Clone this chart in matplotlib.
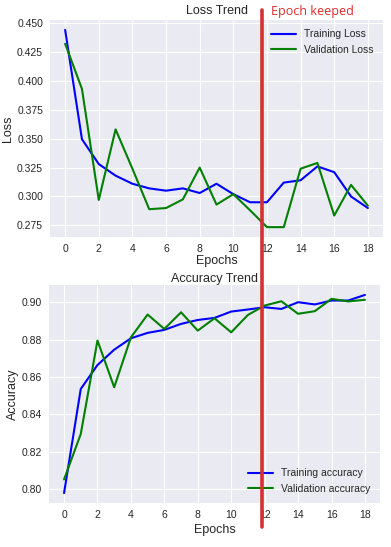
import matplotlib
matplotlib.use('Agg')
import matplotlib.pyplot as plt
from matplotlib.lines import Line2D
from matplotlib.transforms import blended_transform_factory

# datos
epochs = list(range(19))
train_loss = [0.444, 0.3495, 0.328, 0.318, 0.311, 0.307, 0.305, 0.307, 0.303, 0.311,
              0.302, 0.295, 0.295, 0.312, 0.314, 0.326, 0.321, 0.300, 0.290]
val_loss = [0.432, 0.393, 0.297, 0.358, 0.324, 0.289, 0.290, 0.2975, 0.325, 0.293,
            0.302, 0.288, 0.2735, 0.2735, 0.324, 0.329, 0.2835, 0.310, 0.292]
train_acc = [0.7979, 0.8536, 0.8664, 0.8746, 0.8807, 0.8836, 0.8852, 0.8884, 0.8905, 0.8916,
             0.8950, 0.8961, 0.8973, 0.8964, 0.9000, 0.8988, 0.9009, 0.9009, 0.9039]
val_acc = [0.8052, 0.8295, 0.8795, 0.8545, 0.8812, 0.8934, 0.8857, 0.8946, 0.8848, 0.8914,
           0.8839, 0.8932, 0.8982, 0.9005, 0.8938, 0.8952, 0.9018, 0.9004, 0.9013]
keep_epoch = 11.68

plt.style.use('seaborn-v0_8-darkgrid')
plt.rcParams['font.family'] = ['Liberation Sans', 'DejaVu Sans']
plt.rcParams['text.color'] = '#262626'
plt.rcParams['axes.labelcolor'] = '#262626'
plt.rcParams['xtick.color'] = '#262626'
plt.rcParams['ytick.color'] = '#262626'

fig = plt.figure(figsize=(3.91, 5.47), dpi=100)
ax1 = fig.add_axes([50/391, 1 - 237/547, 333/391, 217/547])
ax2 = fig.add_axes([49/391, 44/547, 331/391, 218/547])

#------------------------------
# Loss
#------------------------------
ax1.plot(epochs, train_loss, color='blue', lw=1.5, label='Training Loss')
ax1.plot(epochs, val_loss, color='green', lw=1.5, label='Validation Loss')
ax1.set_title('Loss Trend', fontsize=9, pad=4)
ax1.set_xlabel('Epochs', fontsize=9, labelpad=1)
ax1.set_ylabel('Loss', fontsize=9, labelpad=2)
ax1.set_xticks(range(0, 19, 2))
ax1.tick_params(labelsize=7.5, pad=5)
ax1.legend(loc='upper right', fontsize=7.5, frameon=False, handlelength=2.4)

#------------------------------
# Accuracy
#------------------------------
ax2.plot(epochs, train_acc, color='blue', lw=1.5, label='Training accuracy')
ax2.plot(epochs, val_acc, color='green', lw=1.5, label='Validation accuracy')
ax2.set_title('Accuracy Trend', fontsize=9, pad=2)
ax2.set_xlabel('Epochs', fontsize=9, labelpad=3)
ax2.set_ylabel('Accuracy', fontsize=9, labelpad=2)
ax2.set_xticks(range(0, 19, 2))
ax2.tick_params(labelsize=7.5, pad=5)
ax2.legend(loc='lower right', fontsize=7.5, frameon=False, handlelength=2.4)

# linea roja de la epoca guardada, atraviesa toda la figura
trans = blended_transform_factory(ax1.transData, fig.transFigure)
fig.add_artist(Line2D([keep_epoch, keep_epoch], [1 - 10/547, 1 - 527/547],
                      transform=trans, color='#d63031', lw=2.6))
ax1.annotate('Epoch keeped', xy=(keep_epoch, 1 - 12/547), xycoords=trans,
             xytext=(7, 0), textcoords='offset points', color='#e02b2b',
             fontsize=9, family=['Open Sans', 'DejaVu Sans'], ha='left', va='center',
             annotation_clip=False)

plt.savefig('out.png', dpi=100)
